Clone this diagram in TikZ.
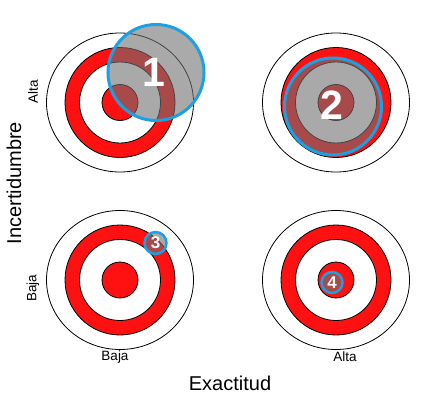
\documentclass[tikz,border=0pt]{standalone}
\usepackage{fontspec}
\setmainfont{Liberation Sans}
\definecolor{tred}{RGB}{255,17,17}
\definecolor{ovgray}{RGB}{113,113,113}
\definecolor{ovblue}{RGB}{27,161,226}
\tikzset{
  ring/.style={draw=black, line width=0.8pt},
  overlay/.style={circle, inner sep=0pt, fill=ovgray, fill opacity=0.6, draw=ovblue, draw opacity=1},
  numlbl/.style={text=white, font=\bfseries, inner sep=0pt},
  axlbl/.style={font=\fontsize{20}{24}\selectfont, inner sep=0pt},
  smlbl/.style={font=\fontsize{13.5}{16}\selectfont, inner sep=0pt}
}
\newcommand{\target}[2]{%
  \draw[ring, fill=white] (#1,#2) ellipse [x radius=73.5, y radius=69.5];
  \draw[ring, fill=tred] (#1,#2) circle [radius=55];
  \draw[ring, fill=white] (#1,#2) circle [radius=40.5];
  \draw[ring, fill=tred] (#1,#2) circle [radius=18];
}
\begin{document}
\begin{tikzpicture}[x=1pt,y=-1pt]
\useasboundingbox (0,0) rectangle (442,415);
\target{120}{102.5}
\target{336}{102.5}
\target{120}{280}
\target{336}{280}
% overlays
\node[overlay, minimum size=96pt, line width=3pt] (o1) at (156,72.5) {};
\node[numlbl, font=\fontsize{41}{44}\selectfont\bfseries] (n1) at (154,72.5) {1};
\node[overlay, minimum size=97pt, line width=3pt] (o2) at (333,106.5) {};
\node[numlbl, font=\fontsize{41}{44}\selectfont\bfseries] (n2) at (331.5,105) {2};
\node[overlay, minimum size=22pt, line width=2.5pt] (o3) at (155.5,243) {};
\node[numlbl, font=\fontsize{17}{20}\selectfont\bfseries] (n3) at (155.5,243) {3};
\node[overlay, minimum size=21pt, line width=2.5pt] (o4) at (332,282.5) {};
\node[numlbl, font=\fontsize{17}{20}\selectfont\bfseries] (n4) at (332,282.5) {4};
% labels
\node[axlbl] (ex) at (230,383) {Exactitud};
\node[axlbl, rotate=90] (inc) at (14,183) {Incertidumbre};
\node[smlbl] (bx) at (115,357) {Baja};
\node[smlbl] (ax) at (345,357) {Alta};
\node[smlbl, rotate=90] (ay) at (33,92) {Alta};
\node[smlbl, rotate=90] (by) at (33,288) {Baja};
\end{tikzpicture}
\end{document}
